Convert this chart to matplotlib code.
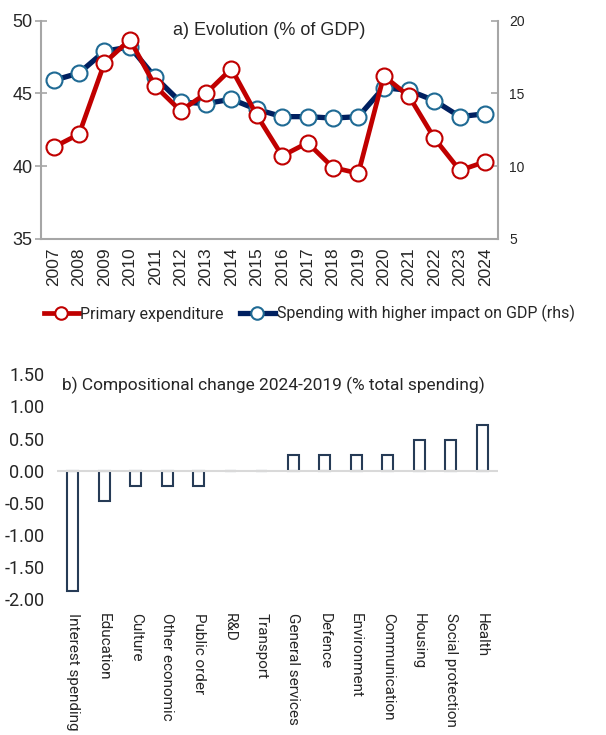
import matplotlib
matplotlib.use("Agg")
import matplotlib.pyplot as plt
from matplotlib.lines import Line2D

years = [str(y) for y in range(2007, 2025)]
primary_exp = [41.3, 42.2, 47.1, 48.7, 45.5, 43.8, 45.0, 46.7, 43.5, 40.7,
               41.6, 39.9, 39.5, 46.2, 44.8, 41.9, 39.7, 40.3]
high_impact = [15.9, 16.4, 17.9, 18.2, 16.1, 14.4, 14.3, 14.6, 13.9, 13.4,
               13.4, 13.3, 13.4, 15.4, 15.2, 14.5, 13.4, 13.6]

categories = ["Interest spending", "Education", "Culture", "Other economic",
              "Public order", "R&D", "Transport", "General services", "Defence",
              "Environment", "Communication", "Housing", "Social protection", "Health"]
changes = [-1.88, -0.47, -0.24, -0.24, -0.24, 0.0, 0.0, 0.24, 0.24, 0.24, 0.24,
           0.47, 0.47, 0.71]

RED = "#C00000"
NAVY = "#002060"
MEDGE = "#1F6A94"
NARROW = ["Liberation Sans Narrow", "Liberation Sans", "DejaVu Sans"]
REG = ["Roboto", "DejaVu Sans"]

fig = plt.figure(figsize=(6.06, 7.35), dpi=100)

# ---- top panel
ax = fig.add_axes([0.0677, 0.6752, 0.754, 0.2966])
ax2 = ax.twinx()
x = list(range(len(years)))
ax.plot(x, primary_exp, color=RED, lw=3.4, marker="o", ms=11.5,
        mfc="white", mec=RED, mew=1.5, zorder=3)
ax2.plot(x, high_impact, color=NAVY, lw=3.8, marker="o", ms=11.5,
         mfc="white", mec=MEDGE, mew=1.5, zorder=3)
ax.set_xlim(-0.5, len(years) - 0.5)
ax.set_ylim(35, 50)
ax2.set_ylim(5, 20)
ax.set_yticks([35, 40, 45, 50])
ax2.set_yticks([5, 10, 15, 20])
ax.set_xticks(x)
ax.set_xticklabels(years, rotation=90, fontsize=12.5, family=NARROW)
for lab in ax.get_yticklabels():
    lab.set_family(NARROW)
    lab.set_fontsize(13)
for lab in ax2.get_yticklabels():
    lab.set_family(NARROW)
    lab.set_fontsize(10)
for a in (ax, ax2):
    for s in a.spines.values():
        s.set_visible(False)
ax.spines["left"].set_visible(True)
ax.spines["bottom"].set_visible(True)
ax2.spines["right"].set_visible(True)
for s in ("left", "bottom"):
    ax.spines[s].set_color("#A6A6A6")
    ax.spines[s].set_linewidth(1.5)
ax2.spines["right"].set_color("#A6A6A6")
ax2.spines["right"].set_linewidth(1.5)
ax.tick_params(axis="y", direction="inout", length=8, width=1.2, color="#A6A6A6",
               pad=2, labelcolor="#262626")
ax.tick_params(axis="x", length=0, pad=6, labelcolor="#262626")
ax2.tick_params(axis="y", direction="in", length=5, width=1.2, color="#A6A6A6",
                pad=8, labelcolor="#262626")
ax.text(0.5, 0.995, "a) Evolution (% of GDP)", transform=ax.transAxes,
        ha="center", va="top", fontsize=13, family=NARROW, color="#262626")
ax.set_zorder(ax2.get_zorder() + 1)
ax.patch.set_visible(False)

handles = [Line2D([], [], color=RED, lw=3.4, marker="o", ms=9, mfc="white", mec=RED, mew=1.5),
           Line2D([], [], color=NAVY, lw=3.8, marker="o", ms=9, mfc="white", mec=MEDGE, mew=1.5)]
fig.legend(handles, ["Primary expenditure", "Spending with higher impact on GDP (rhs)"],
           loc="center", bbox_to_anchor=(0.51, 0.573), ncol=2, frameon=False,
           prop={"family": REG, "size": 11.5}, handlelength=2.2, handletextpad=0.1,
           columnspacing=1.0, labelcolor="#262626")

# ---- bottom panel
bx = fig.add_axes([0.094, 0.185, 0.7277, 0.3057])
cx = list(range(len(categories)))
bx.bar(cx, changes, width=0.34, color="white", edgecolor="#263B56", lw=1.5, zorder=2)
bx.axhline(0, color="#D9D9D9", lw=1.5, zorder=3)
bx.set_xlim(-0.5, len(categories) - 0.5)
bx.set_ylim(-2.0, 1.5)
yt = [-2.0, -1.5, -1.0, -0.5, 0.0, 0.5, 1.0, 1.5]
bx.set_yticks(yt)
bx.set_yticklabels([f"{v:.2f}" for v in yt], family=REG, fontsize=13, color="#262626")
bx.set_xticks(cx)
bx.set_xticklabels(categories, rotation=270, family=REG, fontsize=11, color="#262626",
                   va="top", ha="center")
bx.tick_params(axis="both", length=0)
bx.tick_params(axis="x", pad=10)
bx.tick_params(axis="y", pad=9)
for s in bx.spines.values():
    s.set_visible(False)
bx.text(0.012, 0.99, "b) Compositional change 2024-2019 (% total spending)",
        transform=bx.transAxes, ha="left", va="top", fontsize=12.5, family=REG,
        color="#262626")

fig.savefig("out.png", dpi=100)
